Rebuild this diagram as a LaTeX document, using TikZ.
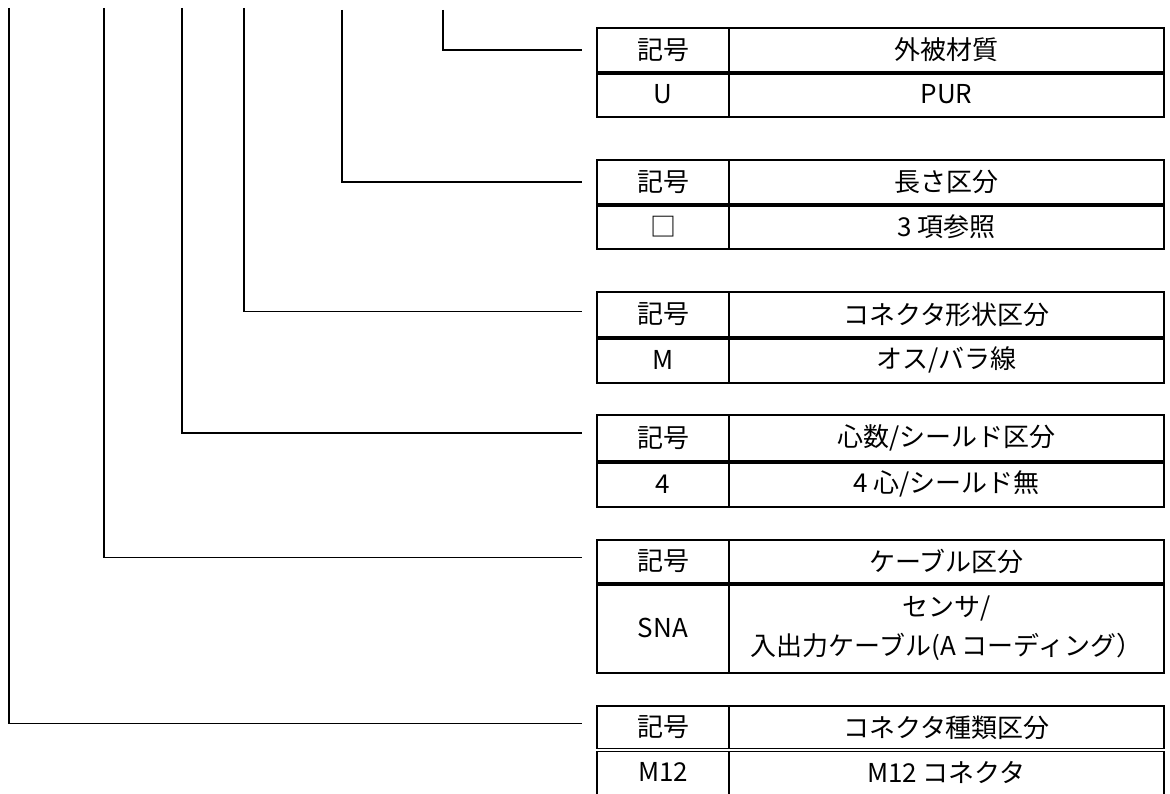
\documentclass[tikz,border=0pt]{standalone}
\usepackage{fontspec}
\setmainfont{Noto Sans CJK JP}

\begin{document}
\begin{tikzpicture}[x=1pt,y=-1pt]
    \tikzstyle{every node}+=[inner sep=0pt]
    \tikzset{
      cell/.style={draw=black, line width=1.5pt, align=center,
        font=\fontsize{26}{39}\selectfont},
      keycell/.style={cell, minimum width=132pt},
      valcell/.style={cell, minimum width=435pt},
      sepline/.style={black, line width=4pt},
      leader/.style={black, line width=1.4pt}
    }
    \useasboundingbox (0,0) rectangle (1170,794);
    % table 1
    \node [keycell, minimum height=44pt] (k1) at (663,50) {記号};
    \node [valcell, minimum height=44pt] (v1) at (946.5,50) {外被材質};
    \node [keycell, minimum height=45pt] (b1) at (663,94.5) {U};
    \node [valcell, minimum height=45pt] (w1) at (946.5,94.5) {PUR};
    \draw [sepline] (k1.south west) -- (v1.south east);
    % table 2
    \node [keycell, minimum height=44pt] (k2) at (663,182) {記号};
    \node [valcell, minimum height=44pt] (v2) at (946.5,182) {長さ区分};
    \node [keycell, minimum height=45pt] (b2) at (663,226.5) {□};
    \node [valcell, minimum height=45pt] (w2) at (946.5,226.5) {3 項参照};
    \draw [sepline] (k2.south west) -- (v2.south east);
    % table 3
    \node [keycell, minimum height=45pt] (k3) at (663,314.5) {記号};
    \node [valcell, minimum height=45pt] (v3) at (946.5,314.5) {コネクタ形状区分};
    \node [keycell, minimum height=46pt] (b3) at (663,360) {M};
    \node [valcell, minimum height=46pt] (w3) at (946.5,360) {オス/バラ線};
    \draw [sepline] (k3.south west) -- (v3.south east);
    % table 4
    \node [keycell, minimum height=46pt] (k4) at (663,438) {記号};
    \node [valcell, minimum height=46pt] (v4) at (946.5,438) {心数/シールド区分};
    \node [keycell, minimum height=46pt] (b4) at (663,484) {4};
    \node [valcell, minimum height=46pt] (w4) at (946.5,484) {4 心/シールド無};
    \draw [sepline] (k4.south west) -- (v4.south east);
    % table 5
    \node [keycell, minimum height=43pt] (k5) at (663,561.5) {記号};
    \node [valcell, minimum height=43pt] (v5) at (946.5,561.5) {ケーブル区分};
    \node [keycell, minimum height=90pt] (b5) at (663,628) {SNA};
    \node [valcell, minimum height=90pt] (w5) at (946.5,628) {センサ/\\入出力ケーブル(A コーディング）};
    \draw [sepline] (k5.south west) -- (v5.south east);
    % table 6
    \node [keycell, minimum height=43pt] (k6) at (663,727.5) {記号};
    \node [valcell, minimum height=43pt] (v6) at (946.5,727.5) {コネクタ種類区分};
    \node [keycell, minimum height=46pt] (b6) at (663,772) {M12};
    \node [valcell, minimum height=46pt] (w6) at (946.5,772) {M12 コネクタ};
    \draw [black, line width=1.2pt, double, double distance=2pt] (k6.south west) -- (v6.south east);
    % leaders
    \coordinate (t1) at (443,10);
    \coordinate (t2) at (342,10);
    \coordinate (t3) at (244,8);
    \coordinate (t4) at (182,8);
    \coordinate (t5) at (104,8);
    \coordinate (t6) at (9,8);
    \draw [leader] (t1) |- ([xshift=-14pt]k1.west);
    \draw [leader] (t2) |- ([xshift=-14pt]k2.west);
    \draw [leader] (t3) |- ([xshift=-14pt,yshift=3pt]k3.west);
    \draw [leader] (t4) |- ([xshift=-14pt,yshift=5pt]k4.west);
    \draw [leader] (t5) |- ([xshift=-14pt,yshift=4pt]k5.west);
    \draw [leader] (t6) |- ([xshift=-14pt,yshift=4pt]k6.west);
\end{tikzpicture}
\end{document}
